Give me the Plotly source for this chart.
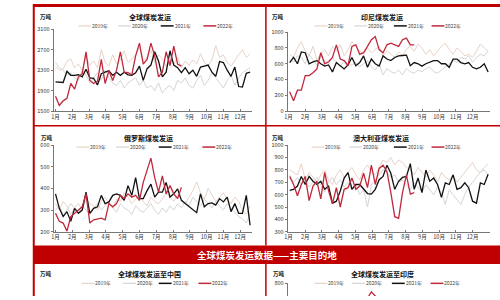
import plotly.graph_objects as go

# ---------------- data ----------------
months = ["1月", "2月", "3月", "4月", "5月", "6月", "7月", "8月", "9月", "10月", "11月", "12月"]
years = ["2019年", "2020年", "2021年", "2022年"]

global_2019 = [2380, 2300, 2320, 2480, 2520, 2350, 2420, 2300, 2560, 2400, 2480, 2350, 2700, 2450, 2380, 2600, 2420, 2500, 2680, 2450, 2520, 2600, 2750, 2480, 2550, 2700, 2450, 2600, 2520, 2380, 2500, 2420, 2550, 2350, 2480, 2400, 2500, 2420, 2620, 2450, 2380, 2500, 2780, 2550, 2600, 2450, 2380, 2500, 2600, 2700, 2550, 2620]
global_2020 = [2450, 2350, 2300, 2200, 2250, 2150, 2100, 2300, 2200, 2050, 2150, 2250, 2100, 2300, 2150, 2050, 2000, 2100, 1950, 2050, 2100, 2150, 2000, 2100, 1950, 2000, 1900, 2050, 1850, 1950, 2000, 1900, 2100, 2050, 2150, 2000, 1950, 2100, 2200, 2000, 2100, 2250, 2150, 2050, 1950, 2100, 2200, 2000, 2150, 2250, 2300, 2350]
global_2021 = [2070, 2070, 2060, 2280, 2200, 2200, 2210, 2170, 2320, 2150, 2140, 2010, 2230, 2260, 2290, 2200, 2260, 2200, 2260, 2210, 2200, 2250, 2380, 2100, 2330, 2400, 2660, 2480, 2170, 2260, 2680, 2400, 2350, 2250, 2350, 2230, 2300, 2180, 2360, 2380, 2400, 2260, 2180, 2470, 2450, 2300, 2180, 2360, 1980, 1970, 2240, 2260]
global_2022 = [1790, 1610, 1700, 1750, 2040, 1930, 2170, 2230, 2660, 2100, 2040, 2080, 2510, 2040, 2290, 2100, 2300, 2660, 2260, 2250, 2210, 2580, 2830, 2420, 2510, 2830, 2580, 2170, 2260, 2660, 2390, 2770, 2420, 2380]

indo_2019 = [720, 680, 800, 880, 760, 700, 820, 650, 720, 780, 700, 820, 760, 840, 700, 780, 880, 820, 760, 720, 800, 740, 780, 820, 700, 760, 720, 680, 750, 700, 780, 820, 760, 850, 800, 720, 780, 700, 760, 820, 860, 780, 720, 800, 760, 700, 720, 680, 760, 850, 800, 760]
indo_2020 = [650, 620, 700, 680, 600, 720, 650, 580, 700, 640, 600, 680, 620, 560, 640, 600, 580, 620, 560, 600, 640, 560, 520, 600, 460, 540, 500, 480, 520, 460, 540, 500, 480, 520, 500, 540, 560, 500, 480, 520, 560, 600, 640, 620, 680, 660, 700, 620, 680, 720, 700, 760]
indo_2021 = [615, 680, 600, 750, 740, 600, 625, 640, 600, 570, 585, 495, 615, 575, 535, 585, 680, 575, 615, 700, 555, 660, 600, 570, 700, 660, 640, 680, 700, 705, 710, 575, 615, 600, 570, 600, 620, 640, 640, 600, 600, 555, 660, 660, 615, 600, 615, 555, 535, 555, 600, 495]
indo_2022 = [245, 130, 265, 265, 450, 450, 485, 535, 740, 600, 625, 680, 840, 660, 640, 575, 820, 840, 720, 740, 820, 905, 945, 780, 740, 840, 860, 840, 820, 905, 925, 840, 840]

russia_2019 = [330, 300, 340, 320, 280, 310, 330, 300, 350, 330, 320, 300, 340, 360, 330, 310, 350, 340, 380, 360, 330, 350, 370, 340, 320, 360, 340, 330, 350, 380, 360, 340, 370, 350, 330, 360, 390, 430, 380, 350, 400, 370, 340, 360, 380, 350, 330, 360, 340, 300, 280, 320]
russia_2020 = [300, 320, 280, 300, 330, 310, 290, 320, 300, 280, 310, 330, 300, 320, 340, 310, 290, 330, 310, 300, 280, 320, 300, 290, 310, 330, 300, 280, 310, 290, 320, 300, 330, 310, 340, 320, 360, 340, 320, 350, 330, 310, 340, 320, 300, 330, 310, 290, 270, 260, 240, 280]
russia_2021 = [375, 308, 270, 293, 248, 308, 285, 300, 383, 285, 308, 315, 368, 330, 338, 368, 375, 368, 345, 413, 368, 450, 353, 353, 390, 420, 360, 383, 383, 428, 360, 375, 398, 345, 330, 315, 300, 288, 375, 315, 330, 333, 323, 353, 338, 360, 293, 330, 285, 285, 368, 230]
russia_2022 = [285, 248, 240, 203, 270, 285, 300, 315, 375, 240, 255, 258, 263, 255, 330, 315, 330, 368, 353, 375, 360, 368, 345, 428, 490, 540, 450, 383, 458, 375, 413, 375, 353, 405]

aus_2019 = [800, 780, 760, 850, 720, 780, 740, 700, 760, 800, 720, 680, 760, 800, 740, 780, 820, 760, 720, 800, 840, 780, 760, 820, 880, 860, 900, 840, 880, 860, 820, 800, 760, 820, 780, 740, 800, 760, 700, 780, 740, 720, 760, 700, 740, 780, 820, 860, 800, 780, 820, 850]
aus_2020 = [760, 700, 740, 680, 720, 660, 700, 740, 680, 620, 700, 740, 680, 720, 660, 700, 640, 680, 600, 640, 500, 680, 720, 760, 800, 780, 740, 760, 700, 720, 680, 640, 700, 660, 620, 680, 640, 600, 660, 620, 520, 640, 600, 560, 520, 600, 660, 700, 740, 780, 800, 760]
aus_2021 = [635, 643, 669, 747, 682, 747, 708, 682, 708, 643, 669, 531, 547, 630, 734, 778, 643, 682, 682, 643, 609, 604, 643, 721, 747, 838, 773, 643, 708, 739, 747, 851, 643, 734, 617, 799, 708, 734, 682, 578, 695, 682, 760, 643, 656, 695, 656, 547, 531, 695, 682, 765]
aus_2022 = [747, 682, 591, 682, 747, 552, 669, 708, 565, 780, 630, 526, 656, 500, 643, 656, 734, 643, 669, 773, 656, 838, 682, 812, 838, 786, 617, 422, 409, 617, 760, 604, 617]

india_2022 = [620, 640, 610, 650, 630, 660, 640, 620, 650, 670, 640, 660, 650, 680, 660, 640, 670, 690, 700, 720, 730, 760, 730, 690, 700, 680, 660]

# ---------------- style ----------------
W, H = 500, 300
RED = "#c00000"
COLORS = ["#e8d3c8", "#d5d5d5", "#111111", "#c0283c"]
WIDTHS = [1.0, 1.0, 1.3, 1.3]
FONT = "Noto Sans CJK SC"


def px(x):
    return x / W


def py(y):
    return 1 - y / H


fig = go.Figure()

panels = [
    dict(ax="", dom_x=(50, 250), dom_y=(26, 110), yr=[1500, 3100], yt=[1500, 1900, 2300, 2700, 3100],
         series=[global_2019, global_2020, global_2021, global_2022], xt0=1.0, xts=4.4,
         title="全球煤炭发运", tx=147, ty=13, ux=42, leg=[97, 137, 180, 223], ly=22.5, showx=True),
    dict(ax="2", dom_x=(286, 490), dom_y=(29, 110), yr=[0, 1000], yt=[0, 200, 400, 600, 800, 1000],
         series=[indo_2019, indo_2020, indo_2021, indo_2022], xt0=0.7, xts=4.3,
         title="印尼煤炭发运", tx=381, ty=13, ux=276, leg=[335, 375, 415, 453], ly=22.5, showx=True),
    dict(ax="3", dom_x=(50, 250), dom_y=(145, 234), yr=[200, 600], yt=[200, 300, 400, 500, 600],
         series=[russia_2019, russia_2020, russia_2021, russia_2022], xt0=1.0, xts=4.4,
         title="俄罗斯煤炭发运", tx=146, ty=138, ux=43, leg=[95, 135, 178, 222], ly=147, showx=True),
    dict(ax="4", dom_x=(286, 490), dom_y=(145, 234), yr=[300, 1000], yt=[300, 400, 500, 600, 700, 800, 900, 1000],
         series=[aus_2019, aus_2020, aus_2021, aus_2022], xt0=0.7, xts=4.3,
         title="澳大利亚煤炭发运", tx=380, ty=138, ux=276, leg=[332, 370, 415, 453], ly=147, showx=True),
    dict(ax="5", dom_x=(50, 250), dom_y=(287, 300), yr=[2850, 3000], yt=[3000],
         series=[[], [], [], []], xt0=1.0, xts=4.4,
         title="全球煤炭发运至中国", tx=147, ty=277.5, ux=42, leg=[100, 142, 178, 218], ly=287, showx=False),
    dict(ax="6", dom_x=(286, 490), dom_y=(287, 300), yr=[740, 800], yt=[800],
         series=[[], [], [], india_2022], xt0=0.7, xts=4.3,
         title="全球煤炭发运至印度", tx=382, ty=277.5, ux=277, leg=[335, 373, 413, 452], ly=287, showx=False),
]

shapes = []
annotations = []
layout_axes = {}

for p in panels:
    a = p["ax"]
    xname = "xaxis" + a
    yname = "yaxis" + a
    xref = "x" + a
    yref = "y" + a
    layout_axes[xname] = dict(
        domain=[px(p["dom_x"][0]), px(p["dom_x"][1])],
        anchor=yref, range=[0.5, 52.5],
        tickvals=[p["xt0"] + p["xts"] * i for i in range(12)], ticktext=months,
        showline=p["showx"], linecolor="#777", linewidth=1,
        ticks="inside" if p["showx"] else "", ticklen=2, tickcolor="#777",
        showticklabels=p["showx"], showgrid=False, zeroline=False,
        tickfont=dict(size=5.5, color="#333", family=FONT),
    )
    layout_axes[yname] = dict(
        domain=[py(p["dom_y"][1]), py(p["dom_y"][0])],
        anchor=xref, range=p["yr"], tickvals=p["yt"],
        showline=True, linecolor="#777", linewidth=1,
        ticks="outside", ticklen=2, tickcolor="#777",
        showgrid=False, zeroline=False,
        tickfont=dict(size=5.5, color="#333", family=FONT),
    )
    for i, s in enumerate(p["series"]):
        if len(s):
            fig.add_trace(go.Scatter(
                x=list(range(1, len(s) + 1)), y=s, mode="lines",
                line=dict(color=COLORS[i], width=WIDTHS[i]),
                xaxis=xref, yaxis=yref, showlegend=False, hoverinfo="skip",
            ))
    # title and unit
    annotations.append(dict(x=px(p["tx"]), y=py(p["ty"]), xref="paper", yref="paper",
                            text="<b>" + p["title"] + "</b>", showarrow=False,
                            font=dict(size=7, color="#111", family=FONT),
                            xanchor="center", yanchor="middle"))
    annotations.append(dict(x=px(p["ux"]), y=py(p["ty"]), xref="paper", yref="paper",
                            text="<b>万吨</b>", showarrow=False,
                            font=dict(size=5.5, color="#111", family=FONT),
                            xanchor="center", yanchor="middle"))
    # legend
    for i, c in enumerate(p["leg"]):
        shapes.append(dict(type="line", xref="paper", yref="paper",
                           x0=px(c - 22), x1=px(c - 9), y0=py(p["ly"]), y1=py(p["ly"]),
                           line=dict(color=COLORS[i], width=WIDTHS[i] + 0.2)))
        annotations.append(dict(x=px(c), y=py(p["ly"]), xref="paper", yref="paper",
                                text=years[i], showarrow=False,
                                font=dict(size=5, color="#444", family=FONT),
                                xanchor="center", yanchor="middle"))

# frame and banner
shapes += [
    dict(type="rect", xref="paper", yref="paper", x0=px(30), x1=1, y0=py(3), y1=1,
         fillcolor=RED, line=dict(width=0), layer="above"),
    dict(type="line", xref="paper", yref="paper", x0=px(30), x1=px(30), y0=0, y1=1,
         line=dict(color=RED, width=2), layer="above"),
    dict(type="line", xref="paper", yref="paper", x0=px(264), x1=px(264), y0=py(248), y1=py(3),
         line=dict(color=RED, width=1.5), layer="above"),
    dict(type="line", xref="paper", yref="paper", x0=px(264), x1=px(264), y0=0, y1=py(267),
         line=dict(color=RED, width=1.5), layer="above"),
    dict(type="line", xref="paper", yref="paper", x0=px(30), x1=1, y0=py(125), y1=py(125),
         line=dict(color=RED, width=1.5), layer="above"),
    dict(type="rect", xref="paper", yref="paper", x0=px(30), x1=1, y0=py(267), y1=py(248),
         fillcolor=RED, line=dict(width=0), layer="above"),
]
annotations.append(dict(x=px(265), y=py(258), xref="paper", yref="paper",
                        text="<b>全球煤炭发运数据——主要目的地</b>", showarrow=False,
                        font=dict(size=9.5, color="white", family=FONT),
                        xanchor="center", yanchor="middle"))

fig.update_layout(
    width=W, height=H, margin=dict(l=0, r=0, t=0, b=0),
    paper_bgcolor="white", plot_bgcolor="rgba(0,0,0,0)",
    showlegend=False, shapes=shapes, annotations=annotations,
    font=dict(family=FONT),
    **layout_axes,
)

fig.write_html("out.html")
